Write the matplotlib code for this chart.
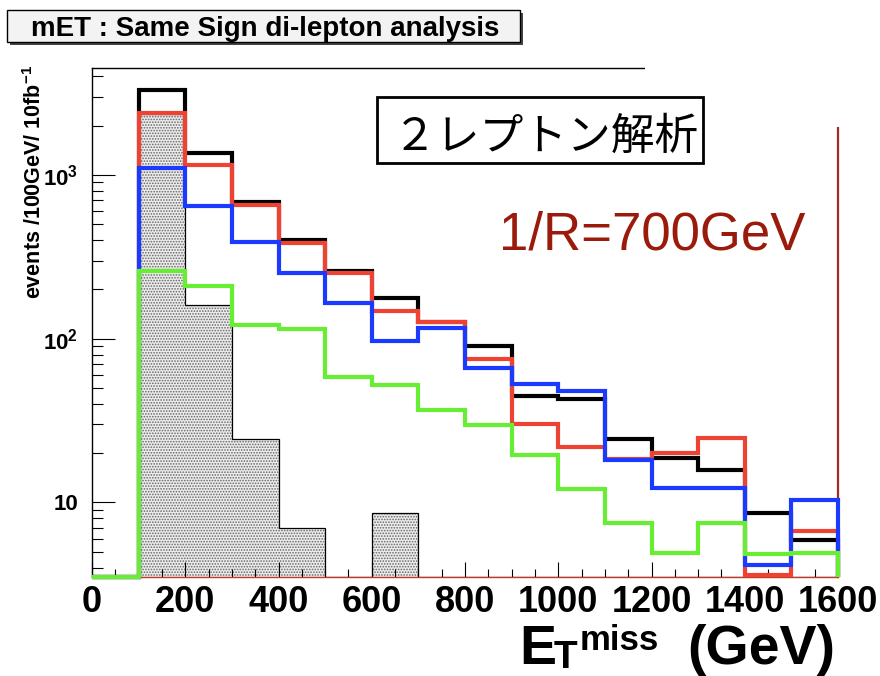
import numpy as np
import matplotlib.pyplot as plt
from matplotlib.patches import Rectangle
from matplotlib.ticker import MultipleLocator, FixedLocator, FixedFormatter, LogLocator, NullFormatter

plt.rcParams['font.family'] = ['Liberation Sans', 'DejaVu Sans']
plt.rcParams['font.weight'] = 'bold'
plt.rcParams['mathtext.fontset'] = 'custom'
plt.rcParams['mathtext.rm'] = 'Liberation Sans:bold'
plt.rcParams['mathtext.bf'] = 'Liberation Sans:bold'
plt.rcParams['mathtext.it'] = 'Liberation Sans:bold'
plt.rcParams['hatch.linewidth'] = 0.8

# missing ET bins, 100 GeV wide
edges = np.arange(0, 1700, 100)

# events / 100 GeV / 10 fb^-1
total = [0, 3310, 1370, 687, 400, 260, 176, 127, 90, 44.5, 43.0, 24.4, 18.7, 15.8, 8.65, 5.87]
red_h = [0, 2380, 1150, 655, 385, 251, 148, 127, 75.5, 30.0, 21.8, 18.3, 19.9, 24.7, 3.6, 6.65]
blue_h = [0, 1100, 646, 391, 251, 164, 96.5, 116, 65.8, 53.2, 47.7, 18.2, 12.3, 12.3, 4.12, 10.3]
green_h = [0, 260, 210, 121, 114, 58.2, 52.0, 36.6, 29.6, 19.6, 12.1, 7.46, 4.90, 7.46, 4.86, 4.90]
background = [0, 2350, 160, 24.3, 6.93, 0, 8.57, 0, 0, 0, 0, 0, 0, 0, 0, 0]

ytick_vals = [10, 100, 1000]
ytick_labels = ['10', r'$10^{2}$', r'$10^{3}$']

YMIN, YMAX = 3.5, 4500

fig = plt.figure(figsize=(8.8, 6.76), dpi=100)
W, H = 880, 676
ax = fig.add_axes([92 / W, 1 - 577 / H, (838 - 92) / W, (577 - 68) / H])
ax.set_yscale('log')

# empty bins sit on the frame floor, as in ROOT
floor = lambda v: np.clip(np.asarray(v, float), YMIN, None)

ax.stairs(floor(background), edges, baseline=YMIN, fill=True, facecolor='#ececec',
          edgecolor='#666666', hatch='......', linewidth=0, zorder=1)
ax.stairs(floor(background), edges, baseline=YMIN, color='black', linewidth=0.9, zorder=2)

for vals, col in [(total, '#000000'), (red_h, '#ee4332'), (blue_h, '#1a3aff'), (green_h, '#66ee33')]:
    st = ax.stairs(floor(vals), edges, baseline=YMIN, color=col, linewidth=3.0, zorder=3,
                   clip_on=False)
    st.set_joinstyle('miter')

ax.set_xlim(0, 1600)
ax.set_ylim(YMIN, YMAX)

ax.xaxis.set_major_locator(MultipleLocator(200))
ax.xaxis.set_minor_locator(MultipleLocator(50))
ax.yaxis.set_major_locator(FixedLocator(ytick_vals))
ax.yaxis.set_major_formatter(FixedFormatter(ytick_labels))
ax.yaxis.set_minor_locator(LogLocator(base=10, subs=np.arange(2, 10)))
ax.yaxis.set_minor_formatter(NullFormatter())

ax.tick_params(axis='x', which='major', direction='in', length=11, width=0.8,
               labelsize=26, pad=6)
ax.tick_params(axis='x', which='minor', direction='in', length=5.5, width=0.8)
ax.tick_params(axis='y', which='major', direction='in', length=16.5, width=0.8,
               labelsize=16, pad=10)
ax.tick_params(axis='y', which='minor', direction='in', length=8, width=0.8)

for side in ['top', 'left']:
    ax.spines[side].set_linewidth(1.0)
ax.spines['right'].set_color('#a32a22')
ax.spines['right'].set_linewidth(1.6)
ax.spines['bottom'].set_color('#c0392b')
ax.spines['bottom'].set_linewidth(1.0)

# pasted-over corner of the frame
fig.patches.append(Rectangle((645 / W, 1 - 127 / H), 1 - 645 / W, 127 / H,
                             transform=fig.transFigure, facecolor='white',
                             edgecolor='none', zorder=1))

# title box with shadow
fig.patches.append(Rectangle((10 / W, 1 - 45 / H), 513 / W, 32 / H, transform=fig.transFigure,
                             facecolor='#444444', edgecolor='none', zorder=2))
fig.patches.append(Rectangle((7 / W, 1 - 42 / H), 513 / W, 32 / H, transform=fig.transFigure,
                             facecolor='#f3f3f3', edgecolor='black', linewidth=1, zorder=2))
fig.text(265 / W, 1 - 35.5 / H, 'mET : Same Sign di-lepton analysis', fontsize=20,
         ha='center', va='baseline', zorder=4)

# analysis label
fig.patches.append(Rectangle((377 / W, 1 - 163 / H), 326 / W, 66 / H, transform=fig.transFigure,
                             facecolor='white', edgecolor='black', linewidth=2, zorder=2))
fig.text(546 / W, 1 - 150 / H, '２レプトン解析', fontsize=31.5, fontweight='normal',
         family=['Noto Sans CJK JP', 'DejaVu Sans'], ha='center', va='baseline', zorder=4)

fig.text(805 / W, 1 - 250 / H, '1/R=700GeV', fontsize=38, fontweight='normal',
         color='#9a1a0c', ha='right', va='baseline', zorder=4)

fig.text(35 / W, 1 - 182 / H, r'events /100GeV/ 10fb$^{-1}$', fontsize=15.5, rotation=90,
         ha='center', va='center', zorder=4)

# x axis title built from pieces: E, subscript T, superscript miss, unit
fig.text(519 / W, 1 - 664 / H, 'E', fontsize=40, ha='left', va='baseline', zorder=4)
fig.text(554 / W, 1 - 668 / H, 'T', fontsize=28, ha='left', va='baseline', zorder=4)
fig.text(580 / W, 1 - 650 / H, 'miss', fontsize=25, ha='left', va='baseline', zorder=4)
fig.text(835 / W, 1 - 664 / H, '(GeV)', fontsize=40, ha='right', va='baseline', zorder=4)

fig.savefig('out.png', dpi=100)
